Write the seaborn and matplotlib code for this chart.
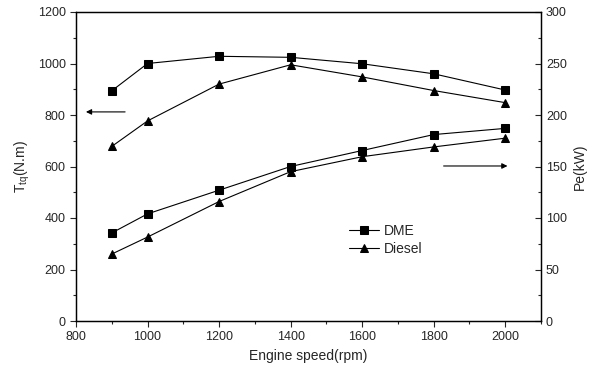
import numpy as np
import pandas as pd
import seaborn as sns
import matplotlib.pyplot as plt
from matplotlib.ticker import MultipleLocator

speed = [900, 1000, 1200, 1400, 1600, 1800, 2000]
dme_torque = [894, 1000, 1028, 1024, 999, 960, 897]
diesel_torque = [678, 777, 920, 995, 948, 895, 848]
dme_power = [85.5, 104, 127, 150, 165.5, 181, 187]
diesel_power = [65, 81.5, 116, 145, 159.5, 169, 177.5]

sns.set_theme(style="ticks")
plt.rcParams['font.family'] = ['Liberation Sans', 'DejaVu Sans']

torque = pd.DataFrame({
    "speed": speed * 2,
    "value": dme_torque + diesel_torque,
    "fuel": ["DME"] * 7 + ["Diesel"] * 7,
})
power = pd.DataFrame({
    "speed": speed * 2,
    "value": dme_power + diesel_power,
    "fuel": ["DME"] * 7 + ["Diesel"] * 7,
})

fig = plt.figure(figsize=(5.95, 3.76), dpi=100)
ax1 = fig.add_axes([76 / 595, 1 - 321 / 376, 465 / 595, 309 / 376])
ax2 = ax1.twinx()

kw = dict(x="speed", y="value", hue="fuel", style="fuel",
          palette={"DME": "black", "Diesel": "black"},
          markers={"DME": "s", "Diesel": "^"}, dashes=False,
          linewidth=0.8, markersize=5.5, markeredgecolor="black")
sns.lineplot(data=torque, ax=ax1, legend=False, **kw)
sns.lineplot(data=power, ax=ax2, legend=True, **kw)

ax1.set_xlim(800, 2100)
ax1.set_ylim(0, 1200)
ax2.set_ylim(0, 300)
ax1.xaxis.set_major_locator(MultipleLocator(200))
ax1.xaxis.set_minor_locator(MultipleLocator(100))
ax1.yaxis.set_major_locator(MultipleLocator(200))
ax1.yaxis.set_minor_locator(MultipleLocator(100))
ax2.yaxis.set_major_locator(MultipleLocator(50))
ax2.yaxis.set_minor_locator(MultipleLocator(25))

ax1.tick_params(axis="both", which="major", labelsize=9, length=4, width=0.8, direction="out")
ax1.tick_params(axis="both", which="minor", length=2.5, width=0.8, direction="out")
ax2.tick_params(axis="y", which="major", labelsize=9, length=4, width=0.8, direction="in")
ax2.tick_params(axis="y", which="minor", length=2.5, width=0.8, direction="in")

for ax in (ax1, ax2):
    for s in ax.spines.values():
        s.set_linewidth(0.9)
        s.set_color("black")

ax1.set_xlabel("Engine speed(rpm)", fontsize=10)
ax1.set_ylabel(r"T$_{\mathregular{tq}}$(N.m)", fontsize=10)
ax2.set_ylabel("Pe(kW)", fontsize=10)

ax1.annotate("", xy=(820, 812), xytext=(945, 812),
             arrowprops=dict(arrowstyle="-|>", color="black", lw=0.8, mutation_scale=8))
ax1.annotate("", xy=(2014, 602), xytext=(1820, 602),
             arrowprops=dict(arrowstyle="-|>", color="black", lw=0.8, mutation_scale=8))

leg = ax2.legend(loc="upper left", bbox_to_anchor=(0.56, 0.355), frameon=False,
                 fontsize=10, handlelength=2.2, handletextpad=0.3, labelspacing=0.3)

fig.savefig("out.png", dpi=100)
